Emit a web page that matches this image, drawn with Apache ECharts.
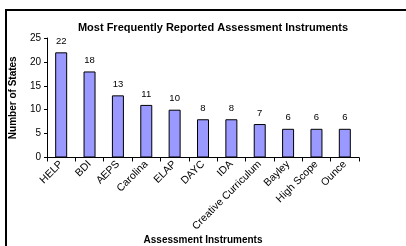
<!DOCTYPE html>
<html>
<head>
<meta charset="utf-8">
<script src="https://cdn.jsdelivr.net/npm/echarts@6/dist/echarts.min.js"></script>
<style>
  html, body { margin: 0; padding: 0; background: #fff; }
  #main { width: 406px; height: 246px; position: relative; }
  .frame { position: absolute; left: 5px; top: 9px; width: 420px; height: 260px;
           border-left: 2px solid #000; border-top: 2px solid #000; pointer-events: none; }
</style>
</head>
<body>
<div style="position:relative;width:406px;height:246px;overflow:hidden">
  <div id="main"></div>
  <div class="frame"></div>
</div>
<script>
const categories = ['HELP', 'BDI', 'AEPS', 'Carolina', 'ELAP', 'DAYC', 'IDA',
  'Creative Curriculum', 'Bayley', 'High Scope', 'Ounce'];
const states = [22, 18, 13, 11, 10, 8, 8, 7, 6, 6, 6];
const yTicks = { min: 0, max: 25, interval: 5 };

const font = 'Liberation Sans, Arial, sans-serif';
const chart = echarts.init(document.getElementById('main'));

chart.setOption({
  animation: false,
  title: {
    text: 'Most Frequently Reported Assessment Instruments',
    left: 208,
    textAlign: 'center',
    top: 17,
    textStyle: { fontFamily: font, fontSize: 11, fontWeight: 'bold', color: '#000' }
  },
  grid: { left: 47, top: 38, right: 47, bottom: 87 },
  xAxis: {
    type: 'category',
    data: categories,
    name: 'Assessment Instruments',
    nameLocation: 'middle',
    nameGap: 77,
    nameTextStyle: { fontFamily: font, fontSize: 10, fontWeight: 'bold', color: '#000' },
    axisLine: { lineStyle: { color: '#000', width: 1 } },
    axisTick: { show: true, alignWithLabel: false, length: 4, lineStyle: { color: '#000' } },
    axisLabel: { interval: 0, rotate: 45, fontFamily: font, fontSize: 10.5, color: '#000', margin: 5 }
  },
  yAxis: {
    type: 'value',
    min: yTicks.min,
    max: yTicks.max,
    interval: yTicks.interval,
    name: 'Number of States',
    nameLocation: 'middle',
    nameGap: 29,
    nameTextStyle: { fontFamily: font, fontSize: 10, fontWeight: 'bold', color: '#000' },
    splitLine: { show: false },
    axisLine: { show: true, lineStyle: { color: '#000', width: 1 } },
    axisTick: { show: true, length: 3, lineStyle: { color: '#000' } },
    axisLabel: { fontFamily: font, fontSize: 10, color: '#000', margin: 6 }
  },
  series: [{
    type: 'bar',
    data: states,
    barWidth: 12,
    itemStyle: { color: '#9999FF', borderColor: '#000', borderWidth: 1 },
    label: {
      show: true,
      position: 'top',
      distance: 6,
      fontFamily: font,
      fontSize: 9.5,
      color: '#000'
    }
  }]
});
</script>
</body>
</html>
